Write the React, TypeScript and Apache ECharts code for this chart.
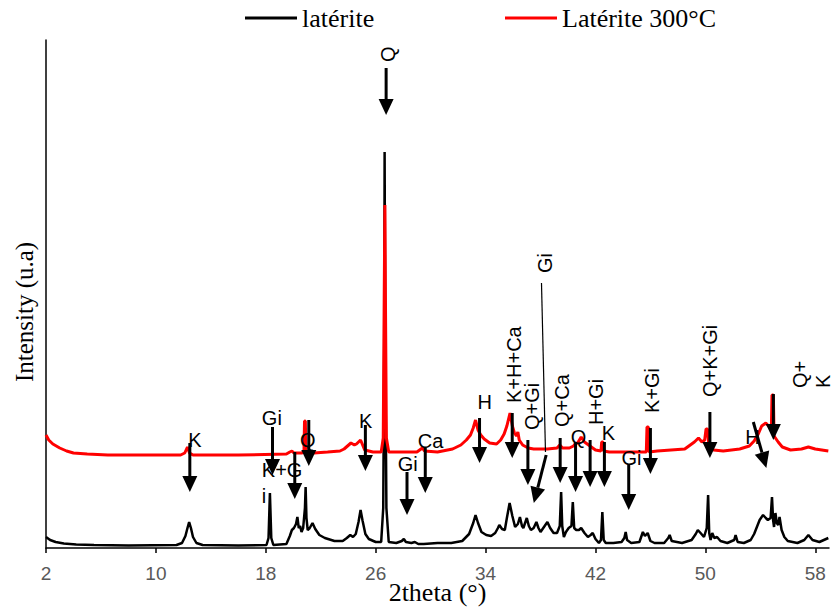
import React, { useEffect, useRef } from 'react';
import * as echarts from 'echarts';

// ---- axis ticks ----
const xTicks = [2, 10, 18, 26, 34, 42, 50, 58];
const seriesNames = ['latérite', 'Latérite 300°C'];

// ---- diffractograms [2theta, intensity] ----
const lateriteData: [number, number][] = [
  [2.0, 11], [2.3, 8], [2.7, 6], [3.3, 4.5], [4.2, 3.5], [5.5, 3], [8, 2.5], [11.5, 3], [11.9, 5],
  [12.15, 12], [12.3, 20], [12.42, 26], [12.55, 20], [12.7, 11], [12.95, 5], [13.4, 3], [16, 2.5],
  [18.05, 3], [18.2, 10], [18.3, 55], [18.4, 10], [18.55, 3], [19.5, 4], [19.75, 12], [19.9, 18],
  [20.05, 20], [20.2, 24], [20.3, 31], [20.4, 20], [20.5, 22], [20.6, 16], [20.72, 20], [20.85, 40],
  [20.9, 61], [20.96, 30], [21.05, 18], [21.2, 20], [21.4, 25], [21.6, 19], [21.9, 13], [22.3, 10],
  [23.0, 7], [23.6, 7], [23.9, 10], [24.15, 13], [24.35, 11], [24.55, 14], [24.75, 26], [24.9, 38],
  [25.05, 27], [25.25, 14], [25.5, 9], [26.0, 6], [26.4, 6], [26.55, 40], [26.62, 200], [26.65, 396],
  [26.7, 200], [26.78, 40], [26.95, 6], [27.5, 5], [27.9, 7], [28.05, 9], [28.2, 6], [28.6, 5],
  [28.85, 6], [29.1, 4], [29.5, 4], [30.5, 5], [31.5, 5], [32.3, 7], [32.8, 14], [33.1, 25],
  [33.27, 33], [33.45, 25], [33.7, 16], [34.05, 13], [34.4, 12], [34.7, 15], [34.9, 20], [35.0, 23],
  [35.2, 19], [35.4, 18], [35.55, 30], [35.75, 45], [35.95, 32], [36.15, 21], [36.35, 24], [36.5, 31],
  [36.65, 22], [36.75, 20], [36.9, 26], [37.0, 30], [37.15, 22], [37.3, 18], [37.5, 20], [37.7, 26],
  [37.85, 20], [38.0, 16], [38.25, 21], [38.5, 26], [38.7, 20], [38.95, 15], [39.2, 15], [39.4, 22],
  [39.5, 56], [39.58, 22], [39.7, 11], [39.85, 16], [40.05, 20], [40.25, 22], [40.35, 46], [40.45, 20],
  [40.6, 18], [40.8, 18], [40.96, 20], [41.2, 15], [41.45, 11], [41.65, 13], [41.8, 15], [42.0, 9],
  [42.25, 5], [42.4, 8], [42.5, 36], [42.6, 8], [42.75, 5], [43.3, 5], [43.9, 6], [44.1, 10],
  [44.2, 16], [44.3, 8], [44.6, 5], [45.2, 6], [45.35, 12], [45.45, 16], [45.6, 12], [45.8, 15],
  [46.0, 7], [46.3, 5], [47.0, 5], [47.3, 10], [47.4, 13], [47.55, 7], [48.3, 5], [49.0, 8],
  [49.3, 14], [49.45, 18], [49.65, 15], [49.9, 11], [50.1, 20], [50.2, 53], [50.28, 15], [50.38, 8],
  [50.5, 15], [50.65, 10], [50.85, 11], [51.1, 7], [51.6, 5], [52.1, 8], [52.2, 13], [52.35, 6],
  [52.8, 5], [53.3, 8], [53.55, 14], [53.75, 21], [53.95, 28], [54.2, 33], [54.4, 30], [54.55, 28],
  [54.75, 30], [54.85, 51], [54.93, 28], [55.0, 21], [55.1, 35], [55.2, 25], [55.3, 23], [55.4, 31],
  [55.55, 18], [55.75, 11], [56.0, 7], [56.7, 5], [57.2, 8], [57.5, 13], [57.8, 8], [58.3, 6], [58.95, 10],
];

const laterite300Data: [number, number][] = [
  [2.0, 113], [2.2, 108], [2.5, 104], [3.0, 100], [3.5, 97], [4.0, 95], [5.0, 94], [6.5, 93], [9, 93],
  [11.8, 93], [12.1, 95], [12.3, 101], [12.45, 95], [12.7, 93], [16, 93], [19.5, 94], [19.75, 96],
  [19.9, 97], [20.05, 95], [20.6, 95], [20.78, 96], [20.82, 127], [20.88, 127], [20.92, 96], [21.5, 95],
  [22.5, 96], [23.4, 97], [23.7, 99], [23.95, 102], [24.2, 105], [24.45, 103], [24.6, 104], [24.9, 108],
  [25.05, 103], [25.2, 98], [25.8, 96], [26.4, 96], [26.55, 110], [26.62, 250], [26.67, 343],
  [26.71, 250], [26.78, 110], [26.95, 96], [28.0, 96], [29.0, 96], [29.3, 99], [29.4, 100], [29.55, 97],
  [30.5, 96], [31.6, 99], [32.2, 103], [32.6, 108], [32.9, 113], [33.1, 120], [33.27, 128], [33.45, 118],
  [33.65, 113], [33.9, 109], [34.3, 105], [34.8, 104], [35.1, 108], [35.35, 114], [35.55, 122],
  [35.78, 135], [35.95, 122], [36.1, 115], [36.25, 112], [36.35, 116], [36.45, 108], [36.7, 103],
  [37.1, 100], [37.5, 99], [38.5, 99], [39.2, 100], [39.4, 103], [39.6, 100], [40.1, 100], [40.4, 102],
  [40.5, 104], [40.7, 105], [40.96, 111], [41.2, 106], [41.5, 103], [42.0, 98], [42.4, 97], [42.45, 106],
  [42.55, 106], [42.6, 97], [43.0, 96], [45.7, 96], [45.75, 121], [45.85, 121], [45.9, 96], [46.5, 97],
  [47.5, 98], [48.5, 99], [49.2, 106], [49.5, 110], [49.75, 106], [49.95, 108], [50.05, 119],
  [50.15, 119], [50.25, 103], [50.6, 98], [51.3, 97], [52.5, 99], [53.2, 102], [53.55, 107],
  [53.85, 114], [54.1, 122], [54.4, 125], [54.6, 122], [54.8, 118], [54.85, 153], [54.95, 153],
  [55.0, 112], [55.3, 106], [55.6, 101], [56.2, 98], [57.0, 99], [57.5, 101], [58.0, 99], [58.95, 97],
];

// ---- peak annotations: arrows [x1, y1, x2(tip), y2(tip)] in data units ----
const arrowSegments: [number, number, number, number][] = [
  [12.47, 105, 12.47, 56], [18.49, 121, 18.49, 73], [20.11, 96, 20.11, 49], [21.13, 128, 21.13, 82],
  [25.25, 123, 25.25, 77], [26.76, 480, 26.76, 433], [28.28, 76, 28.28, 33], [29.61, 100, 29.61, 55],
  [33.56, 130, 33.56, 85], [35.94, 135, 35.94, 90], [37.08, 108, 37.08, 63], [38.41, 93, 37.51, 45],
  [39.43, 110, 39.43, 65], [40.55, 106, 40.55, 56], [41.61, 108, 41.61, 61], [42.65, 106, 42.65, 61],
  [44.42, 83, 44.42, 38], [46.0, 120, 46.0, 74], [50.33, 136, 50.33, 90], [53.49, 126, 54.44, 80],
  [54.95, 154, 54.95, 108],
];
const leaderLines: [number, number, number, number][] = [[38.07, 265, 38.36, 96]];

const labelTexts = [
  'K', 'Gi', 'K+G\ni', 'Q', 'K', 'Q', 'Gi', 'Ca', 'H', 'K+H+Ca', 'Q+Gi', 'Gi', 'Q+Ca', 'Q', 'H+Gi',
  'K', 'Gi', 'K+Gi', 'Q+K+Gi', 'H', 'Q+', 'K',
];
const labelPositions: [number, number][] = [
  [12.84, 108], [18.44, 130], [17.71, 65], [21.05, 108], [25.27, 127], [26.87, 486], [28.33, 84],
  [30.0, 107], [33.93, 146], [36.04, 145], [37.35, 118], [38.29, 275], [39.53, 121], [40.76, 111],
  [42.07, 123], [42.95, 115], [44.62, 90], [46.15, 135], [50.36, 151], [53.42, 111], [56.91, 160],
  [58.55, 160],
];
// c = horizontal centred, l = horizontal left-aligned, r = rotated (reads upward)
const labelModes = [
  'c', 'c', 'l', 'c', 'c', 'r', 'c', 'c', 'c', 'r', 'r', 'r', 'r', 'c', 'r', 'c', 'c', 'r', 'r', 'c', 'r', 'r',
];

const SERIF = '"Liberation Serif", "Times New Roman", serif';
const SANS = '"Liberation Sans", Arial, sans-serif';

export default function App() {
  const ref = useRef<HTMLDivElement>(null);

  useEffect(() => {
    if (!ref.current) return;
    const chart = echarts.init(ref.current, undefined, { renderer: 'svg' });

    const renderArrow = (params: any, api: any) => {
      const p1 = api.coord([api.value(0), api.value(1)]);
      const p2 = api.coord([api.value(2), api.value(3)]);
      const dx = p2[0] - p1[0];
      const dy = p2[1] - p1[1];
      const len = Math.sqrt(dx * dx + dy * dy) || 1;
      const ux = dx / len;
      const uy = dy / len;
      const H = 16;
      const W = 7.5;
      const bx = p2[0] - ux * H;
      const by = p2[1] - uy * H;
      const nx = -uy;
      const ny = ux;
      return {
        type: 'group',
        children: [
          {
            type: 'line',
            shape: { x1: p1[0], y1: p1[1], x2: bx, y2: by },
            style: { stroke: '#000', lineWidth: 3 },
          },
          {
            type: 'polygon',
            shape: { points: [[p2[0], p2[1]], [bx + nx * W, by + ny * W], [bx - nx * W, by - ny * W]] },
            style: { fill: '#000' },
          },
        ],
      };
    };

    const renderLeader = (params: any, api: any) => {
      const p1 = api.coord([api.value(0), api.value(1)]);
      const p2 = api.coord([api.value(2), api.value(3)]);
      return {
        type: 'line',
        shape: { x1: p1[0], y1: p1[1], x2: p2[0], y2: p2[1] },
        style: { stroke: '#000', lineWidth: 1.2 },
      };
    };

    const renderLabel = (params: any, api: any) => {
      const i = params.dataIndex;
      const p = api.coord([api.value(0), api.value(1)]);
      const mode = labelModes[i];
      return {
        type: 'text',
        x: p[0],
        y: p[1],
        rotation: mode === 'r' ? Math.PI / 2 : 0,
        style: {
          text: labelTexts[i],
          fill: '#000',
          fontSize: 20,
          fontFamily: SANS,
          lineHeight: mode === 'l' ? 26 : 20,
          align: mode === 'c' ? 'center' : 'left',
          verticalAlign: 'middle',
        },
      };
    };

    const legendBase = {
      top: 5,
      padding: 0,
      itemWidth: 52,
      itemHeight: 3,
      icon: 'rect',
      textStyle: { fontFamily: SERIF, fontSize: 26, color: '#000' },
    };

    chart.setOption({
      animation: false,
      backgroundColor: '#fff',
      grid: { left: 46, top: 40, width: 783, height: 508, containLabel: false, outerBoundsMode: 'none' },
      legend: [
        { ...legendBase, data: [seriesNames[0]], left: 245 },
        { ...legendBase, data: [seriesNames[1]], left: 505 },
      ],
      xAxis: {
        type: 'value',
        min: 2,
        max: 59,
        name: '2theta (°)',
        nameLocation: 'middle',
        nameGap: 31,
        nameMoveOverlap: false,
        nameTextStyle: { fontFamily: SERIF, fontSize: 26, color: '#000' },
        axisLine: { show: true, lineStyle: { color: '#000', width: 1.5 } },
        axisTick: { show: true, length: 5, inside: false, customValues: xTicks, lineStyle: { color: '#000', width: 1.5 } },
        axisLabel: { customValues: xTicks, color: '#595959', fontSize: 19, fontFamily: SANS, margin: 16 },
        splitLine: { show: false },
      },
      yAxis: {
        type: 'value',
        min: 0,
        max: 508,
        axisLine: { show: true, lineStyle: { color: '#000', width: 1.5 } },
        axisTick: { show: false },
        axisLabel: { show: false },
        splitLine: { show: false },
      },
      graphic: [
        {
          type: 'text',
          x: 24,
          y: 312,
          rotation: Math.PI / 2,
          style: {
            text: 'Intensity (u.a)',
            fontFamily: SERIF,
            fontSize: 25,
            fill: '#000',
            align: 'center',
            verticalAlign: 'middle',
          },
        },
      ],
      series: [
        {
          name: seriesNames[0],
          type: 'line',
          data: lateriteData,
          symbol: 'none',
          showSymbol: false,
          lineStyle: { color: '#000', width: 2.5 },
          itemStyle: { color: '#000' },
          z: 2,
        },
        {
          name: seriesNames[1],
          type: 'line',
          data: laterite300Data,
          symbol: 'none',
          showSymbol: false,
          lineStyle: { color: '#ff0000', width: 3 },
          itemStyle: { color: '#ff0000' },
          z: 3,
        },
        {
          type: 'custom',
          renderItem: renderLeader,
          data: leaderLines,
          encode: { x: [0, 2], y: [1, 3] },
          silent: true,
          clip: false,
          z: 5,
        },
        {
          type: 'custom',
          renderItem: renderArrow,
          data: arrowSegments,
          encode: { x: [0, 2], y: [1, 3] },
          silent: true,
          clip: false,
          z: 6,
        },
        {
          type: 'custom',
          renderItem: renderLabel,
          data: labelPositions,
          encode: { x: 0, y: 1 },
          silent: true,
          clip: false,
          z: 7,
        },
      ],
    });

    return () => {
      chart.dispose();
    };
  }, []);

  return (
    <div
      ref={ref}
      style={{ position: 'fixed', left: 0, top: 0, width: 834, height: 607, background: '#fff' }}
    />
  );
}
